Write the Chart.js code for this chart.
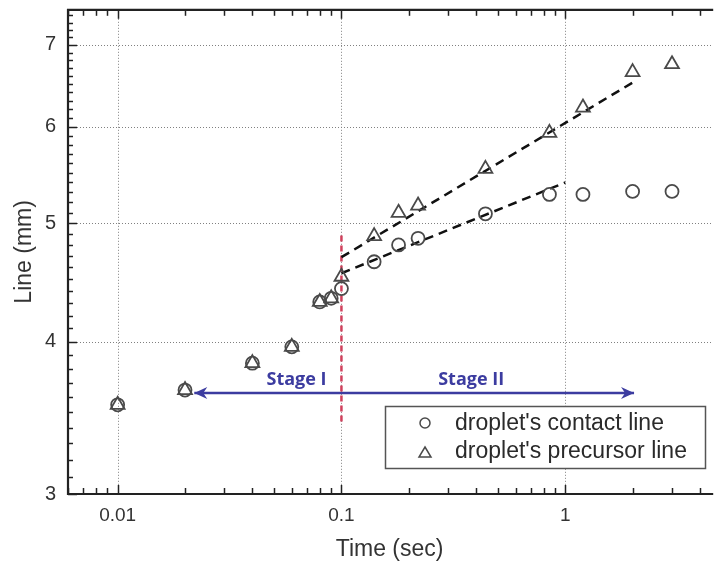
<!DOCTYPE html>
<html>
<head>
<meta charset="utf-8">
<script src="https://cdn.jsdelivr.net/npm/chart.js@4.4.1/dist/chart.umd.min.js"></script>
<style>
  html, body { margin: 0; padding: 0; background: #fff; }
  #wrap { width: 721px; height: 565px; }
</style>
</head>
<body>
<div id="wrap"><canvas id="lineChart"></canvas></div>
<script>
// values
const timeSec = [0.01, 0.02, 0.04, 0.06, 0.08, 0.09, 0.1, 0.14, 0.18, 0.22, 0.44, 0.85, 1.2, 2, 3];
const contactLine = [3.55, 3.65, 3.84, 3.96, 4.31, 4.34, 4.42, 4.65, 4.80, 4.86, 5.09, 5.28, 5.28, 5.31, 5.31];
const precursorLine = [3.55, 3.65, 3.84, 3.96, 4.31, 4.34, 4.52, 4.88, 5.10, 5.17, 5.54, 5.93, 6.22, 6.65, 6.75];

const contactFitX = [0.1, 1];
const contactFitY = [4.55, 5.40];
const precursorFitX = [0.1, 2];
const precursorFitY = [4.69, 6.52];

const dividerX = [0.1, 0.1];
const dividerY = [3.44, 4.92];
const arrowX = [0.022, 2.03];
const arrowY = [3.63, 3.63];

const stageNames = ['Stage I', 'Stage II'];
const stageX = [0.063, 0.38];
const stageY = [3.72, 3.72];

const seriesNames = ["droplet's contact line", "droplet's precursor line"];
const xTickLabels = [0.01, 0.1, 1];
const yTickLabels = [3, 4, 5, 6, 7];

const toPts = (xs, ys) => xs.map((v, i) => ({ x: v, y: ys[i] }));

// minor tick positions for the log axes
const xTickValues = [];
[0.001, 0.01, 0.1, 1].forEach(d => {
    for (let m = 1; m < 10; m++) xTickValues.push(Number((m * d).toPrecision(3)));
});
const yTickValues = [];
for (let k = 30; k <= 75; k++) yTickValues.push(k / 10);

const inRange = (scale, list) => list.filter(v => v >= scale.min && v <= scale.max).map(v => ({ value: v }));

const markerColor = '#4a4a4a';

// grid, inward ticks and frame
const frame = {
    id: 'frame',
    beforeDatasetsDraw(chart) {
        const { ctx, chartArea: a, scales: { x, y } } = chart;
        ctx.save();
        ctx.strokeStyle = '#808080';
        ctx.lineWidth = 1;
        ctx.setLineDash([1, 2]);
        xTickLabels.forEach(v => {
            const px = Math.round(x.getPixelForValue(v)) + 0.5;
            ctx.beginPath(); ctx.moveTo(px, a.top); ctx.lineTo(px, a.bottom); ctx.stroke();
        });
        yTickLabels.forEach(v => {
            const py = Math.round(y.getPixelForValue(v)) + 0.5;
            ctx.beginPath(); ctx.moveTo(a.left, py); ctx.lineTo(a.right, py); ctx.stroke();
        });
        ctx.restore();
    },
    afterDatasetsDraw(chart) {
        const { ctx, chartArea: a, scales: { x, y } } = chart;
        ctx.save();
        ctx.strokeStyle = '#222';
        ctx.lineWidth = 1.5;
        xTickValues.forEach(v => {
            if (v < x.min || v > x.max) return;
            const px = Math.round(x.getPixelForValue(v)) + 0.5;
            const len = xTickLabels.includes(v) ? 9 : 6;
            ctx.beginPath(); ctx.moveTo(px, a.bottom); ctx.lineTo(px, a.bottom - len); ctx.stroke();
            ctx.beginPath(); ctx.moveTo(px, a.top); ctx.lineTo(px, a.top + len); ctx.stroke();
        });
        yTickValues.forEach(v => {
            if (v < y.min || v > y.max) return;
            const py = Math.round(y.getPixelForValue(v)) + 0.5;
            const len = yTickLabels.includes(v) ? 9 : 5;
            ctx.beginPath(); ctx.moveTo(a.left, py); ctx.lineTo(a.left + len, py); ctx.stroke();
        });
        ctx.lineWidth = 2.2;
        ctx.beginPath();
        ctx.moveTo(a.right + 2, a.top);
        ctx.lineTo(a.left, a.top);
        ctx.lineTo(a.left, a.bottom);
        ctx.lineTo(a.right + 2, a.bottom);
        ctx.stroke();
        ctx.restore();
    }
};

// arrow heads and stage labels
const stages = {
    id: 'stages',
    afterDatasetsDraw(chart) {
        const { ctx, scales: { x, y } } = chart;
        const meta = chart.getDatasetMeta(5);
        const p0 = meta.data[0], p1 = meta.data[1];
        ctx.save();
        ctx.fillStyle = '#3c3ca0';
        [[p0, -1], [p1, 1]].forEach(([p, dir]) => {
            ctx.beginPath();
            ctx.moveTo(p.x, p.y);
            ctx.lineTo(p.x - dir * 13, p.y - 6);
            ctx.lineTo(p.x - dir * 9, p.y);
            ctx.lineTo(p.x - dir * 13, p.y + 6);
            ctx.closePath();
            ctx.fill();
        });
        ctx.font = 'bold 18px "Open Sans"';
        ctx.textAlign = 'center';
        ctx.textBaseline = 'middle';
        stageNames.forEach((s, i) => {
            ctx.fillText(s, x.getPixelForValue(stageX[i]), y.getPixelForValue(stageY[i]));
        });
        ctx.restore();
    }
};

// boxed legend inside the plot
const boxLegend = {
    id: 'boxLegend',
    afterDraw(chart) {
        const { ctx } = chart;
        const left = 385, top = 406, w = 320, h = 62;
        ctx.save();
        ctx.fillStyle = '#fff';
        ctx.fillRect(left, top, w, h);
        ctx.strokeStyle = '#555';
        ctx.lineWidth = 1.5;
        ctx.strokeRect(left + 0.5, top + 0.5, w, h);
        ctx.fillStyle = '#2a2a2a';
        ctx.font = '23px "Liberation Sans", Arial';
        ctx.textBaseline = 'middle';
        ctx.strokeStyle = markerColor;
        ctx.lineWidth = 1.5;
        const mx = left + 40;
        // circle
        ctx.beginPath();
        ctx.arc(mx, top + 17, 5, 0, Math.PI * 2);
        ctx.stroke();
        ctx.fillText(seriesNames[0], left + 70, top + 18);
        // triangle
        const ty = top + 47;
        ctx.beginPath();
        ctx.moveTo(mx, ty - 6);
        ctx.lineTo(mx + 6, ty + 4);
        ctx.lineTo(mx - 6, ty + 4);
        ctx.closePath();
        ctx.stroke();
        ctx.fillText(seriesNames[1], left + 70, top + 46);
        ctx.restore();
    }
};

const ctx = document.getElementById('lineChart').getContext('2d');
const lineChart = new Chart(ctx, {
    type: 'scatter',
    data: {
        datasets: [
            {
                label: seriesNames[0],
                data: toPts(timeSec, contactLine),
                pointStyle: 'circle',
                pointRadius: 6.5,
                pointBorderWidth: 1.8,
                borderColor: markerColor,
                backgroundColor: 'rgba(0,0,0,0)',
            },
            {
                label: seriesNames[1],
                data: toPts(timeSec, precursorLine),
                pointStyle: 'triangle',
                pointRadius: 8,
                pointBorderWidth: 1.8,
                borderColor: markerColor,
                backgroundColor: 'rgba(0,0,0,0)',
            },
            {
                label: 'contact fit',
                data: toPts(contactFitX, contactFitY),
                showLine: true,
                borderColor: '#111',
                borderWidth: 2.5,
                borderDash: [9, 6],
                pointRadius: 0,
            },
            {
                label: 'precursor fit',
                data: toPts(precursorFitX, precursorFitY),
                showLine: true,
                borderColor: '#111',
                borderWidth: 2.5,
                borderDash: [9, 6],
                pointRadius: 0,
            },
            {
                label: 'stage divider',
                data: toPts(dividerX, dividerY),
                showLine: true,
                borderColor: '#d0405c',
                borderWidth: 2.5,
                borderDash: [6, 4],
                pointRadius: 0,
            },
            {
                label: 'stage arrow',
                data: toPts(arrowX, arrowY),
                showLine: true,
                borderColor: '#3c3ca0',
                borderWidth: 2.5,
                pointRadius: 0,
            },
        ]
    },
    options: {
        responsive: true,
        maintainAspectRatio: false,
        animation: false,
        layout: { padding: { top: 8, right: 1, left: 0, bottom: 0 } },
        plugins: {
            legend: { display: false },
            tooltip: { enabled: false },
        },
        scales: {
            x: {
                type: 'logarithmic',
                min: 0.006,
                max: 4.49,
                grid: { display: false, drawTicks: false },
                border: { display: false },
                afterBuildTicks: scale => { scale.ticks = inRange(scale, xTickValues); },
                afterFit: scale => { scale.height = 71; scale.paddingLeft = 0; scale.paddingRight = 0; },
                ticks: {
                    autoSkip: false,
                    maxRotation: 0,
                    padding: 10,
                    color: '#333',
                    font: { family: '"Liberation Sans", Arial', size: 19 },
                    callback: value => xTickLabels.includes(value) ? String(value) : '',
                },
                title: {
                    display: true,
                    text: 'Time (sec)',
                    color: '#333',
                    font: { family: '"Liberation Sans", Arial', size: 23 },
                    padding: { top: 0, bottom: 2 },
                },
            },
            y: {
                type: 'logarithmic',
                min: 3,
                max: 7.48,
                grid: { display: false, drawTicks: false },
                border: { display: false },
                afterBuildTicks: scale => { scale.ticks = inRange(scale, yTickValues); },
                afterFit: scale => { scale.width = 68; scale.paddingTop = 0; scale.paddingBottom = 0; },
                ticks: {
                    autoSkip: false,
                    padding: 12,
                    color: '#333',
                    font: { family: '"Liberation Sans", Arial', size: 20 },
                    callback: value => yTickLabels.includes(value) ? String(value) : '',
                },
                title: {
                    display: true,
                    text: 'Line (mm)',
                    color: '#333',
                    font: { family: '"Liberation Sans", Arial', size: 23 },
                    padding: { top: 11, bottom: 0 },
                },
            },
        },
    },
    plugins: [frame, stages, boxLegend],
});
</script>
</body>
</html>
